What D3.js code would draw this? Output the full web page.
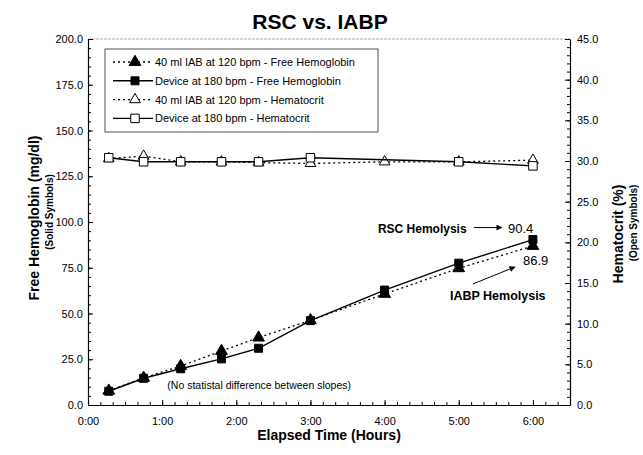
<!DOCTYPE html>
<html>
<head>
<meta charset="utf-8">
<script src="https://cdn.jsdelivr.net/npm/d3@7"></script>
<style>
  body { margin: 0; background: #fff; }
  svg { font-family: "Liberation Sans", Arial, sans-serif; }
</style>
</head>
<body>
<svg id="chart" width="643" height="455"></svg>
<script>
// data (time in hours)
const hgbTimes = [0.28, 0.75, 1.25, 1.8, 2.3, 3, 4, 5, 6];
const hgbDevice = [7.5, 14.6, 19.8, 25.2, 31.0, 46.1, 62.8, 77.5, 90.4];
const hgbIab = [7.8, 14.8, 21.3, 29.5, 36.8, 46.3, 60.7, 74.7, 86.9];
const hctDeviceTimes = [0.28, 0.75, 1.25, 1.8, 2.3, 3, 5, 6];
const hctDevice = [30.4, 29.9, 29.9, 29.9, 29.9, 30.4, 29.9, 29.4];
const hctIabTimes = [0.28, 0.75, 1.25, 1.8, 2.3, 3, 4, 5, 6];
const hctIab = [30.3, 30.6, 29.9, 29.9, 29.8, 29.7, 29.9, 29.9, 30.1];
const xTicks = [0, 1, 2, 3, 4, 5, 6];
const yLeftTicks = [0, 25, 50, 75, 100, 125, 150, 175, 200];
const yRightTicks = [0, 5, 10, 15, 20, 25, 30, 35, 40, 45];
const legendLabels = [
    "40 ml IAB at 120 bpm - Free Hemoglobin",
    "Device at 180 bpm - Free Hemoglobin",
    "40 ml IAB at 120 bpm - Hematocrit",
    "Device at 180 bpm - Hematocrit"
];

const margin = { top: 39, right: 73, bottom: 50, left: 88 };
const width = 643 - margin.left - margin.right;
const height = 455 - margin.top - margin.bottom;

const svg = d3.select("#chart");
const g = svg.append("g")
    .attr("transform", "translate(" + margin.left + "," + margin.top + ")");

const x = d3.scaleLinear().domain([0, 6.5]).range([0, width]);
const yL = d3.scaleLinear().domain([0, 200]).range([height, 0]);
const yR = d3.scaleLinear().domain([0, 45]).range([height, 0]);

const fmtTime = d => d3.format("d")(d) + ":00";

//top border
g.append("line")
    .attr("x1", 0).attr("x2", width)
    .attr("y1", 0).attr("y2", 0)
    .attr("stroke", "#999")
    .attr("stroke-width", 0.8)
    .attr("stroke-dasharray", "3,1");

// minor ticks first, then the labelled axes on top
g.append("g")
    .attr("transform", "translate(0," + height + ")")
    .call(d3.axisBottom(x).tickValues(d3.range(0, 6.5, 1 / 6)).tickSize(-3).tickFormat(""))
    .call(a => a.select(".domain").remove());
g.append("g")
    .call(d3.axisLeft(yL).tickValues(d3.range(0, 200, 5)).tickSize(-3).tickFormat(""))
    .call(a => a.select(".domain").remove());
g.append("g")
    .attr("transform", "translate(" + width + ",0)")
    .call(d3.axisRight(yR).tickValues(d3.range(0, 45, 1)).tickSize(-3).tickFormat(""))
    .call(a => a.select(".domain").remove());

const xAxis = g.append("g")
    .attr("transform", "translate(0," + height + ")")
    .call(d3.axisBottom(x).tickValues(xTicks).tickSize(-5).tickPadding(12).tickSizeOuter(0).tickFormat(fmtTime));
const yAxisL = g.append("g")
    .call(d3.axisLeft(yL).tickValues(yLeftTicks).tickSize(-5).tickPadding(5).tickSizeOuter(0).tickFormat(d3.format(".1f")));
const yAxisR = g.append("g")
    .attr("transform", "translate(" + width + ",0)")
    .call(d3.axisRight(yR).tickValues(yRightTicks).tickSize(-5).tickPadding(7).tickSizeOuter(0).tickFormat(d3.format(".1f")));

[xAxis, yAxisL, yAxisR].forEach(a => {
    a.selectAll("text").attr("font-size", 11).attr("fill", "#000")
        .attr("font-family", "Liberation Sans, Arial, sans-serif");
    a.select(".domain").attr("stroke", "#000").attr("stroke-width", 1.2);
});

// axis titles
svg.append("text")
    .attr("x", margin.left + x(3.25)).attr("y", 440)
    .attr("text-anchor", "middle")
    .attr("font-size", 14).attr("font-weight", "bold")
    .text("Elapsed Time (Hours)");
svg.append("text")
    .attr("transform", "translate(39," + (margin.top + height / 2 - 4) + ") rotate(-90)")
    .attr("text-anchor", "middle")
    .attr("font-size", 14).attr("font-weight", "bold")
    .text("Free Hemoglobin (mg/dl)");
svg.append("text")
    .attr("transform", "translate(53," + (margin.top + height / 2 - 10) + ") rotate(-90)")
    .attr("text-anchor", "middle")
    .attr("font-size", 10).attr("font-weight", "bold")
    .text("(Solid Symbols)");
svg.append("text")
    .attr("transform", "translate(623," + (margin.top + height / 2 + 12) + ") rotate(-90)")
    .attr("text-anchor", "middle")
    .attr("font-size", 14).attr("font-weight", "bold")
    .text("Hematocrit (%)");
svg.append("text")
    .attr("transform", "translate(637," + (margin.top + height / 2 + 1) + ") rotate(-90)")
    .attr("text-anchor", "middle")
    .attr("font-size", 10).attr("font-weight", "bold")
    .text("(Open Symbols)");

// title
svg.append("text")
    .attr("x", 320).attr("y", 29)
    .attr("text-anchor", "middle")
    .attr("font-size", 21).attr("font-weight", "bold")
    .text("RSC vs. IABP");

// series
const series = [
    { times: hctIabTimes, values: hctIab, y: yR, dash: "2,3", sym: d3.symbolTriangle, size: 50, fill: "#fff" },
    { times: hctDeviceTimes, values: hctDevice, y: yR, dash: null, sym: d3.symbolSquare, size: 72, fill: "#fff" },
    { times: hgbTimes, values: hgbIab, y: yL, dash: "2,3", sym: d3.symbolTriangle, size: 60, fill: "#000" },
    { times: hgbTimes, values: hgbDevice, y: yL, dash: null, sym: d3.symbolSquare, size: 64, fill: "#000" }
];

series.forEach(s => {
    const pts = s.times.map((t, i) => [t, s.values[i]]);
    const line = d3.line().x(d => x(d[0])).y(d => s.y(d[1]));
    g.append("path")
        .datum(pts)
        .attr("d", line)
        .attr("fill", "none")
        .attr("stroke", "#000")
        .attr("stroke-width", s.dash ? 1.3 : 1.4)
        .attr("stroke-dasharray", s.dash);
    g.selectAll(null)
        .data(pts)
        .join("path")
            .attr("transform", d => "translate(" + x(d[0]) + "," + s.y(d[1]) + ")")
            .attr("d", d3.symbol().type(s.sym).size(s.size))
            .attr("fill", s.fill)
            .attr("stroke", "#000")
            .attr("stroke-width", 1);
});

// annotations
svg.append("defs").append("marker")
    .attr("id", "arrow")
    .attr("viewBox", "0 0 10 10")
    .attr("refX", 9).attr("refY", 5)
    .attr("markerWidth", 7).attr("markerHeight", 6)
    .attr("orient", "auto")
    .append("path")
        .attr("d", "M0,0L10,5L0,10Z")
        .attr("fill", "#000");

const xEnd = x(6), yRsc = yL(90.4), yIab = yL(86.9);
g.append("text")
    .attr("x", xEnd - 155).attr("y", yRsc - 7)
    .attr("font-size", 12).attr("font-weight", "bold")
    .text("RSC Hemolysis");
g.append("line")
    .attr("x1", xEnd - 59).attr("y1", yRsc - 12)
    .attr("x2", xEnd - 31).attr("y2", yRsc - 12)
    .attr("stroke", "#000").attr("stroke-width", 1)
    .attr("marker-end", "url(#arrow)");
g.append("text")
    .attr("x", xEnd - 25).attr("y", yRsc - 7)
    .attr("font-size", 13)
    .text("90.4");
g.append("text")
    .attr("x", xEnd - 10).attr("y", yIab + 19)
    .attr("font-size", 13)
    .text("86.9");
g.append("line")
    .attr("x1", xEnd - 60).attr("y1", yIab + 38)
    .attr("x2", xEnd - 18).attr("y2", yIab + 21)
    .attr("stroke", "#000").attr("stroke-width", 1)
    .attr("marker-end", "url(#arrow)");
g.append("text")
    .attr("x", xEnd - 83).attr("y", yIab + 54)
    .attr("font-size", 12.5).attr("font-weight", "bold")
    .text("IABP Hemolysis");
g.append("text")
    .attr("x", x(1.07)).attr("y", yL(8.5))
    .attr("font-size", 10.5)
    .text("(No statistal difference between slopes)");

// legend
const legend = svg.append("g").attr("transform", "translate(105,49)");
legend.append("rect")
    .attr("width", 273).attr("height", 83)
    .attr("fill", "#fff")
    .attr("stroke", "#555")
    .attr("stroke-width", 1);
const legendRows = [series[2], series[3], series[0], series[1]];
legendRows.forEach((s, i) => {
    const row = legend.append("g").attr("transform", "translate(0," + (13 + i * 18.8) + ")");
    row.append("line")
        .attr("x1", 8).attr("x2", 48)
        .attr("stroke", "#000")
        .attr("stroke-width", s.dash ? 1.3 : 1.4)
        .attr("stroke-dasharray", s.dash);
    row.append("path")
        .attr("transform", "translate(30,0)")
        .attr("d", d3.symbol().type(s.sym).size(s.size))
        .attr("fill", s.fill)
        .attr("stroke", "#000")
        .attr("stroke-width", 1);
    row.append("text")
        .attr("x", 50).attr("y", 4)
        .attr("font-size", 11)
        .text(legendLabels[i]);
});
</script>
</body>
</html>
